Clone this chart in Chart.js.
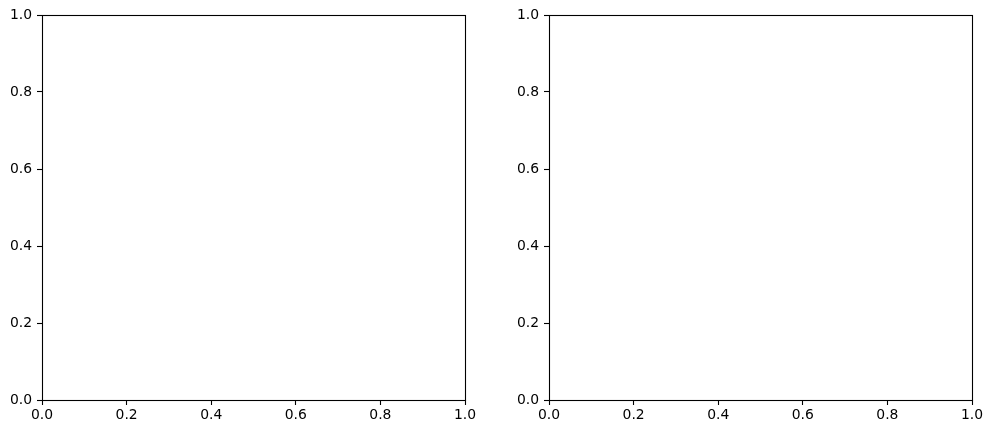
<!DOCTYPE html>
<html>
<head>
<meta charset="utf-8">
<script src="https://cdn.jsdelivr.net/npm/chart.js@4/dist/chart.umd.min.js"></script>
<style>
  html, body { margin: 0; padding: 0; background: #fff; }
  #wrap { position: relative; width: 992px; height: 434px; }
  .c { position: absolute; top: 0; width: 496px; height: 434px; }
</style>
</head>
<body>
<div id="wrap">
  <div class="c" style="left:0"><canvas id="left"></canvas></div>
  <div class="c" style="left:496px"><canvas id="right"></canvas></div>
</div>
<script>
// Data (both panels are empty axes spanning 0..1)
const xTickValues = [0, 0.2, 0.4, 0.6, 0.8, 1.0];
const yTickValues = [0, 0.2, 0.4, 0.6, 0.8, 1.0];
const xRange = [0, 1];
const yRange = [0, 1];
const leftSeries = [];
const rightSeries = [];

const FONT = { family: "'DejaVu Sans', sans-serif", size: 13.9 };

const framePlugin = {
  id: 'frame',
  afterDraw(chart) {
    const a = chart.chartArea, ctx = chart.ctx;
    ctx.save();
    ctx.strokeStyle = '#000';
    ctx.lineWidth = 1.1;
    ctx.strokeRect(Math.round(a.left) + 0.5, Math.round(a.top) + 0.5,
                   Math.round(a.right - a.left), Math.round(a.bottom - a.top));
    ctx.restore();
  }
};

function makeChart(id, data, pad, yWidth) {
  return new Chart(document.getElementById(id), {
    type: 'scatter',
    data: { datasets: [{ data: data, pointRadius: 0 }] },
    plugins: [framePlugin],
    options: {
      responsive: true,
      maintainAspectRatio: false,
      animation: false,
      devicePixelRatio: 1,
      layout: { padding: pad },
      plugins: { legend: { display: false }, tooltip: { enabled: false } },
      scales: {
        x: {
          type: 'linear', min: xRange[0], max: xRange[1],
          afterBuildTicks: s => { s.ticks = xTickValues.map(v => ({ value: v })); },
          afterFit: s => { s.height = 34; },
          border: { display: false },
          grid: { drawOnChartArea: false, drawTicks: true, tickLength: 5, tickColor: '#000', tickWidth: 1.1 },
          ticks: { color: '#000', font: FONT, padding: 2, maxRotation: 0, autoSkip: false,
                   callback: v => Number(v).toFixed(1) }
        },
        y: {
          type: 'linear', min: yRange[0], max: yRange[1],
          afterBuildTicks: s => { s.ticks = yTickValues.map(v => ({ value: v })); },
          afterFit: s => { s.width = yWidth; },
          border: { display: false },
          grid: { drawOnChartArea: false, drawTicks: true, tickLength: 5, tickColor: '#000', tickWidth: 1.1 },
          ticks: { color: '#000', font: FONT, padding: 5, autoSkip: false,
                   callback: v => Number(v).toFixed(1) }
        }
      }
    }
  });
}

makeChart('left', leftSeries, { top: 15, right: 31, bottom: 0, left: 0 }, 42);
makeChart('right', rightSeries, { top: 15, right: 20, bottom: 0, left: 11 }, 42);
</script>
</body>
</html>
